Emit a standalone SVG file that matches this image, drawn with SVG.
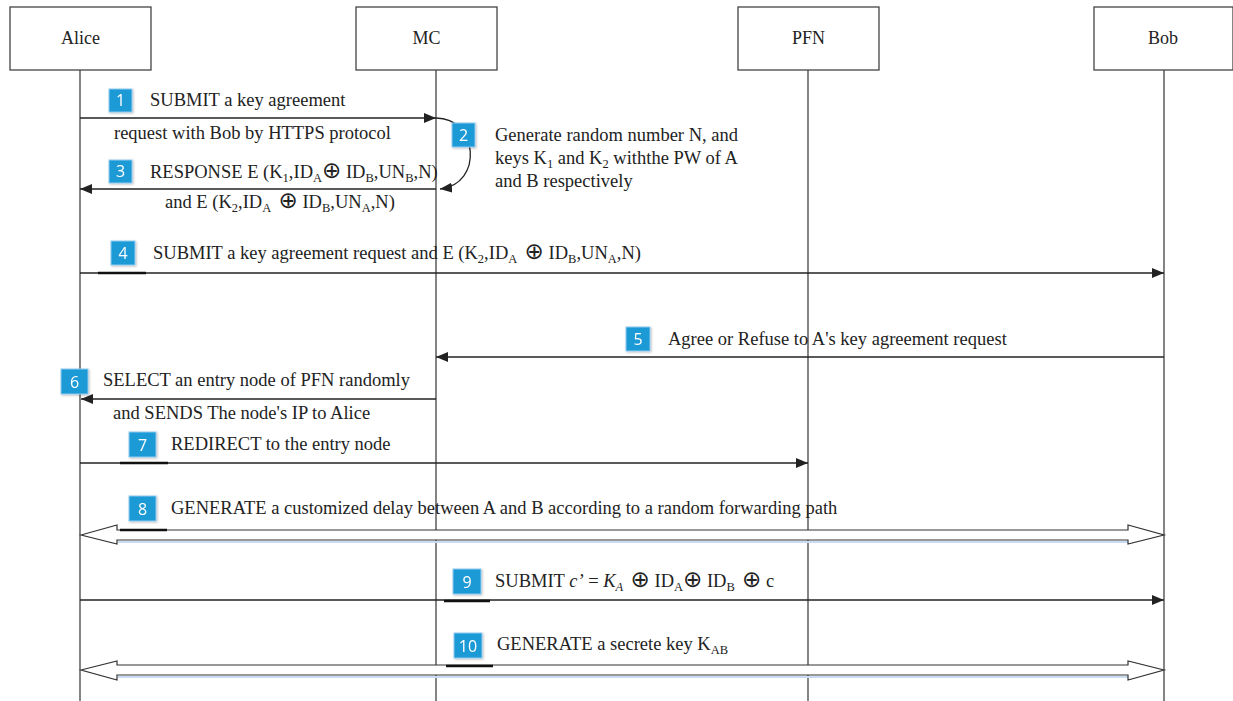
<svg xmlns="http://www.w3.org/2000/svg" width="1233" height="701" viewBox="0 0 1233 701">
<style>
.box{fill:#fff;stroke:#444;stroke-width:1.3}
.life{stroke:#333;stroke-width:1.2}
.hdr{font-family:"Liberation Serif","DejaVu Serif",serif;font-size:18px;fill:#222;text-anchor:middle}
.t{font-family:"Liberation Serif","DejaVu Serif",serif;font-size:18.5px;fill:#222}
.s{font-size:12.5px}
.op{font-family:"DejaVu Sans",sans-serif;font-size:23px}
.msg{stroke:#222;stroke-width:1.3;fill:none}
.blk{fill:#fff;stroke:#333;stroke-width:1.2}
.bdg rect{fill:#1f9ad6;stroke:#8fcaf0;stroke-width:1}
.bdg text{font-family:"Open Sans","Liberation Sans",sans-serif;font-size:16px;fill:#fff;text-anchor:middle}
.dk{stroke:#111;stroke-width:2.5}
</style>
<defs>
<marker id="ah" markerWidth="12" markerHeight="10" refX="12" refY="5" orient="auto" markerUnits="userSpaceOnUse">
<path d="M0,0 L12,5 L0,10 Z" fill="#222"/>
</marker>
<filter id="sh" x="-20%" y="-20%" width="150%" height="150%">
<feDropShadow dx="1" dy="1" stdDeviation="1" flood-color="#000" flood-opacity="0.25"/>
</filter>
</defs>
<rect width="1233" height="701" fill="#fff"/>

<g id="lifelines">
<line class="life" x1="80" y1="70" x2="80" y2="701"/>
<line class="life" x1="436" y1="70" x2="436" y2="701"/>
<line class="life" x1="808" y1="70" x2="808" y2="701"/>
<line class="life" x1="1164" y1="70" x2="1164" y2="701"/>
</g>

<g id="alice"><rect class="box" x="10" y="7" width="141" height="63"/><text class="hdr" x="80.5" y="44">Alice</text></g>
<g id="mc"><rect class="box" x="356" y="7" width="141" height="63"/><text class="hdr" x="426.5" y="44">MC</text></g>
<g id="pfn"><rect class="box" x="738" y="7" width="141" height="63"/><text class="hdr" x="808.5" y="44">PFN</text></g>
<g id="bob"><rect class="box" x="1094" y="7" width="139" height="63"/><text class="hdr" x="1163" y="44">Bob</text></g>

<g id="connectors">
<line class="msg" x1="80" y1="118" x2="436" y2="118" marker-end="url(#ah)"/>
<path class="msg" d="M436,118 C478,118 484,184 440,189" marker-end="url(#ah)"/>
<line class="msg" x1="436" y1="189" x2="80" y2="189" marker-end="url(#ah)"/>
<line class="msg" x1="80" y1="273" x2="1164" y2="273" marker-end="url(#ah)"/>
<line class="msg" x1="1164" y1="357" x2="436" y2="357" marker-end="url(#ah)"/>
<line class="msg" x1="436" y1="399" x2="81" y2="399" marker-end="url(#ah)"/>
<line class="msg" x1="80" y1="463" x2="808" y2="463" marker-end="url(#ah)"/>
<line class="msg" x1="80" y1="600" x2="1164" y2="600" marker-end="url(#ah)"/>
<line x1="118" y1="542" x2="1128" y2="542" stroke="#c9dcf2" stroke-width="2"/>
<path class="blk" d="M81,535 L117,525 L117,530 L1128,530 L1128,525 L1164,535 L1128,544 L1128,540 L117,540 L117,544 Z"/>
<line x1="118" y1="677" x2="1128" y2="677" stroke="#c9dcf2" stroke-width="2"/>
<path class="blk" d="M81,670 L117,661 L117,665 L1128,665 L1128,661 L1164,670 L1128,680 L1128,675 L117,675 L117,680 Z"/>
<line class="dk" x1="98" y1="273" x2="146" y2="273"/>
<line class="dk" x1="120" y1="463" x2="168" y2="463"/>
<line class="dk" x1="120" y1="530" x2="167" y2="530"/>
<line class="dk" x1="444" y1="601" x2="490" y2="601"/>
<line class="dk" x1="446" y1="666" x2="493" y2="666"/>
</g>

<g id="badges" filter="url(#sh)">
<g class="bdg"><rect x="109" y="89" width="23" height="23"/><text x="120.5" y="106">1</text></g>
<g class="bdg"><rect x="452" y="123" width="23" height="24"/><text x="463.5" y="141">2</text></g>
<g class="bdg"><rect x="109" y="160" width="23" height="23"/><text x="120.5" y="177">3</text></g>
<g class="bdg"><rect x="111" y="241" width="24" height="24"/><text x="123" y="259">4</text></g>
<g class="bdg"><rect x="626" y="327" width="24" height="24"/><text x="638" y="345">5</text></g>
<g class="bdg"><rect x="61" y="369" width="27" height="25"/><text x="74.5" y="388">6</text></g>
<g class="bdg"><rect x="129" y="432" width="27" height="25"/><text x="142.5" y="451">7</text></g>
<g class="bdg"><rect x="129" y="496" width="27" height="25"/><text x="142.5" y="515">8</text></g>
<g class="bdg"><rect x="453" y="569" width="28" height="25"/><text x="467" y="588">9</text></g>
<g class="bdg"><rect x="454" y="633" width="28" height="25"/><text x="468" y="652">10</text></g>
</g>

<g id="labels">
<text class="t" x="150" y="106">SUBMIT a key agreement</text>
<text class="t" x="114" y="139">request with Bob by HTTPS protocol</text>
<text class="t" x="495" y="141">Generate random number N, and</text>
<text class="t" x="495" y="164">keys K<tspan class="s" dy="4">1</tspan><tspan dy="-4"> and K</tspan><tspan class="s" dy="4">2</tspan><tspan dy="-4"> withthe PW of A</tspan></text>
<text class="t" x="495" y="187">and B respectively</text>
<text class="t" x="150" y="178">RESPONSE E (K<tspan class="s" dy="4">1</tspan><tspan dy="-4">,ID</tspan><tspan class="s" dy="4">A</tspan><tspan class="op" dy="-4">⊕</tspan><tspan> ID</tspan><tspan class="s" dy="4">B</tspan><tspan dy="-4">,UN</tspan><tspan class="s" dy="4">B</tspan><tspan dy="-4">,N)</tspan></text>
<text class="t" x="165" y="208">and E (K<tspan class="s" dy="4">2</tspan><tspan dy="-4">,ID</tspan><tspan class="s" dy="4">A</tspan><tspan class="op" dy="-4"> ⊕</tspan><tspan> ID</tspan><tspan class="s" dy="4">B</tspan><tspan dy="-4">,UN</tspan><tspan class="s" dy="4">A</tspan><tspan dy="-4">,N)</tspan></text>
<text class="t" x="153" y="259">SUBMIT a key agreement request  and E (K<tspan class="s" dy="4">2</tspan><tspan dy="-4">,ID</tspan><tspan class="s" dy="4">A</tspan><tspan class="op" dy="-4"> ⊕</tspan><tspan> ID</tspan><tspan class="s" dy="4">B</tspan><tspan dy="-4">,UN</tspan><tspan class="s" dy="4">A</tspan><tspan dy="-4">,N)</tspan></text>
<text class="t" x="668" y="345">Agree or Refuse to A's key agreement request</text>
<text class="t" x="103" y="386">SELECT an entry node of PFN randomly</text>
<text class="t" x="113" y="419">and SENDS The node's IP to Alice</text>
<text class="t" x="171" y="450">REDIRECT to the entry node</text>
<text class="t" x="171" y="514">GENERATE a customized delay between A and B according to a random forwarding path</text>
<text class="t" x="495" y="587">SUBMIT <tspan font-style="italic">c’</tspan> = <tspan font-style="italic">K</tspan><tspan class="s" dy="4" font-style="italic">A</tspan><tspan class="op" dy="-4"> ⊕</tspan><tspan> ID</tspan><tspan class="s" dy="4">A</tspan><tspan class="op" dy="-4">⊕</tspan><tspan> ID</tspan><tspan class="s" dy="4">B</tspan><tspan class="op" dy="-4"> ⊕</tspan><tspan> c</tspan></text>
<text class="t" x="497" y="650">GENERATE a secrete key K<tspan class="s" dy="4">AB</tspan></text>
</g>
</svg>
